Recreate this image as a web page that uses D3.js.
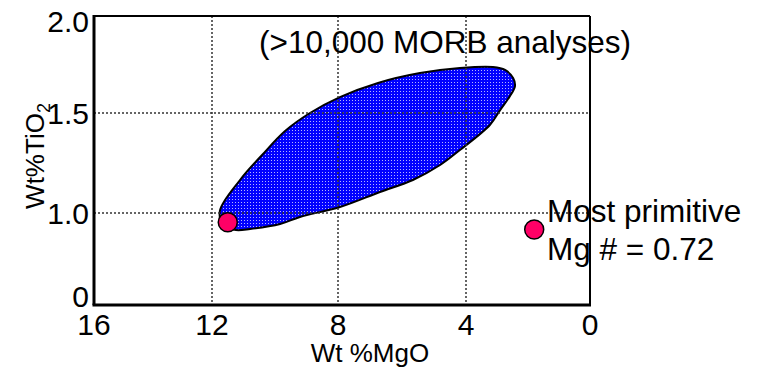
<!DOCTYPE html>
<html>
<head>
<meta charset="utf-8">
<script src="https://cdn.jsdelivr.net/npm/d3@7"></script>
<style>
  body { margin: 0; background: #fff; }
  svg { display: block; font-family: "Liberation Sans", Arial, sans-serif; }
</style>
</head>
<body>
<svg id="chart" width="758" height="367"></svg>
<script>
// axis ticks (the original axis is stretched, so ticks anchor a piecewise scale)
const xTicks = [16, 12, 8, 4, 0];
const yTicks = [0, 1.0, 1.5, 2.0];
const yTickLabels = ['0', '1.0', '1.5', '2.0'];

// outline of the MORB field (Wt% MgO, Wt% TiO2)
const fieldMgO = [11.75, 11.11, 10.41, 9.68, 8.89, 7.94, 6.75, 5.44, 4.19, 3.13, 2.74, 2.48, 2.42, 2.58, 2.90, 3.23, 4.19, 4.81, 5.66, 6.69, 7.94, 9.21, 9.84, 10.79, 11.24, 11.62];
const fieldTiO2 = [1.01, 1.165, 1.29, 1.41, 1.50, 1.582, 1.655, 1.706, 1.732, 1.737, 1.722, 1.68, 1.639, 1.588, 1.515, 1.44, 1.315, 1.24, 1.165, 1.105, 1.03, 0.957, 0.88, 0.826, 0.815, 0.86];

// the two primitive samples
const pointMgO = [11.5, 1.8];
const pointTiO2 = [0.90, 0.82];

const svg = d3.select('#chart');

const x = d3.scaleLinear().domain(xTicks).range([94, 212, 338, 466, 590]);
const y = d3.scaleLinear().domain(yTicks).range([305, 213, 113, 16]);

// dotted fill pattern
const pat = svg.append('defs').append('pattern')
  .attr('id', 'dots')
  .attr('patternUnits', 'userSpaceOnUse')
  .attr('width', 3).attr('height', 3);
pat.append('rect').attr('width', 3).attr('height', 3).attr('fill', '#0000ff');
pat.append('rect').attr('x', 1).attr('y', 1).attr('width', 1).attr('height', 1)
  .attr('fill', '#fff').attr('opacity', 0.7);

// field
const field = fieldMgO.map((m, i) => [m, fieldTiO2[i]]);
const line = d3.line()
  .x(d => x(d[0]))
  .y(d => y(d[1]))
  .curve(d3.curveCatmullRomClosed.alpha(0.5));

svg.append('path')
  .attr('d', line(field))
  .attr('fill', 'url(#dots)')
  .attr('stroke', '#000')
  .attr('stroke-width', 2);

// grid
const grid = svg.append('g')
  .attr('stroke', '#333')
  .attr('stroke-width', 1.5)
  .attr('stroke-dasharray', '2,2');

grid.selectAll('line.v')
  .data(xTicks.slice(1, -1))
  .join('line')
  .attr('class', 'v')
  .attr('x1', d => x(d)).attr('x2', d => x(d))
  .attr('y1', y(2)).attr('y2', y(0));

grid.selectAll('line.h')
  .data(yTicks.slice(1, -1))
  .join('line')
  .attr('class', 'h')
  .attr('x1', x(16)).attr('x2', x(0))
  .attr('y1', d => y(d)).attr('y2', d => y(d));

// frame
svg.append('line')
  .attr('x1', x(16)).attr('x2', x(0))
  .attr('y1', y(2)).attr('y2', y(2))
  .attr('stroke', '#000').attr('stroke-width', 2);
svg.append('line')
  .attr('x1', x(0)).attr('x2', x(0))
  .attr('y1', y(2)).attr('y2', y(0))
  .attr('stroke', '#000').attr('stroke-width', 2);
svg.append('line')
  .attr('x1', x(16) - 1.5).attr('x2', x(0) + 1)
  .attr('y1', y(0)).attr('y2', y(0))
  .attr('stroke', '#000').attr('stroke-width', 3);
svg.append('line')
  .attr('x1', x(16)).attr('x2', x(16))
  .attr('y1', y(2) - 1).attr('y2', y(0))
  .attr('stroke', '#000').attr('stroke-width', 3);

// points
svg.selectAll('circle')
  .data(pointMgO.map((m, i) => [m, pointTiO2[i]]))
  .join('circle')
  .attr('cx', d => x(d[0]))
  .attr('cy', d => y(d[1]))
  .attr('r', 9.5)
  .attr('fill', '#ff0066')
  .attr('stroke', '#000')
  .attr('stroke-width', 1.5);

// tick labels
svg.selectAll('text.xt')
  .data(xTicks)
  .join('text')
  .attr('class', 'xt')
  .attr('x', d => x(d))
  .attr('y', 335)
  .attr('text-anchor', 'middle')
  .attr('font-size', 30)
  .text(d => d);

svg.selectAll('text.yt')
  .data(yTicks)
  .join('text')
  .attr('class', 'yt')
  .attr('x', 89)
  .attr('y', d => Math.min(Math.max(y(d), 21), 296))
  .attr('dy', '0.36em')
  .attr('text-anchor', 'end')
  .attr('font-size', 30)
  .text((d, i) => yTickLabels[i]);

// axis titles
svg.append('text')
  .attr('x', 370).attr('y', 362)
  .attr('text-anchor', 'middle')
  .attr('font-size', 26)
  .text('Wt %MgO');

const yt = svg.append('text')
  .attr('transform', 'translate(44,156) rotate(-90)')
  .attr('text-anchor', 'middle')
  .attr('font-size', 26);
yt.append('tspan').text('Wt%TiO');
yt.append('tspan').attr('font-size', 18).attr('dy', 6).text('2');

// annotations
svg.append('text')
  .attr('x', 259).attr('y', 53)
  .attr('font-size', 31.5)
  .text('(>10,000 MORB analyses)');

svg.append('text')
  .attr('x', 547).attr('y', 222)
  .attr('font-size', 31.5)
  .text('Most primitive');
svg.append('text')
  .attr('x', 547).attr('y', 260)
  .attr('font-size', 31.5)
  .text('Mg # = 0.72');
</script>
</body>
</html>
